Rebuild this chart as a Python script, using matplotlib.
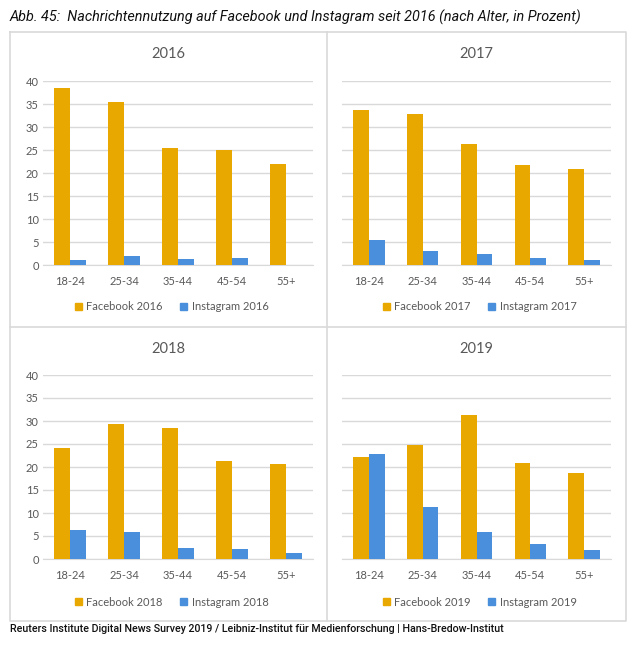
import numpy as np
import matplotlib
matplotlib.use('Agg')
import matplotlib.pyplot as plt
from matplotlib.patches import Patch

# Data
ages = ['18-24', '25-34', '35-44', '45-54', '55+']
years = ['2016', '2017', '2018', '2019']
facebook = {
	'2016': [38.5, 35.5, 25.4, 25.0, 21.9],
	'2017': [33.8, 32.9, 26.4, 21.8, 20.9],
	'2018': [24.2, 29.3, 28.5, 21.3, 20.7],
	'2019': [22.1, 24.7, 31.4, 20.9, 18.8],
}
instagram = {
	'2016': [1.1, 1.9, 1.2, 1.5, 0.1],
	'2017': [5.4, 3.0, 2.4, 1.6, 1.0],
	'2018': [6.4, 5.8, 2.5, 2.2, 1.2],
	'2019': [22.9, 11.4, 5.9, 3.3, 1.9],
}

FB_COLOR = '#E8A800'
IG_COLOR = '#4A8FDB'
GRID = '#D9D9D9'
TXT = '#595959'
W, H = 640, 646

plt.rcParams['font.family'] = ['Lato', 'DejaVu Sans']

fig = plt.figure(figsize=(W / 100, H / 100), dpi=100)

# Panel layout in pixels: (axes left, axes right, y of 0, y of 40, panel left, panel right, panel top)
panels = {
	'2016': (43, 313, 265, 81, 10, 327, 32),
	'2017': (342, 611, 265, 81, 327, 626, 32),
	'2018': (43, 313, 559, 375, 10, 327, 327),
	'2019': (342, 611, 559, 375, 327, 626, 327),
}

x = np.arange(len(ages))
bw = 0.29

for yr in years:
	l, r, y0, y40, pl, pr, pt = panels[yr]
	ax = fig.add_axes([l / W, 1 - y0 / H, (r - l) / W, (y0 - y40) / H])
	ax.bar(x - bw / 2, facebook[yr], bw, color=FB_COLOR, zorder=3)
	ax.bar(x + bw / 2, instagram[yr], bw, color=IG_COLOR, zorder=3)
	ax.set_xlim(-0.5, len(ages) - 0.5)
	ax.set_ylim(0, 40)
	ax.set_yticks(range(0, 41, 5))
	ax.yaxis.grid(True, color=GRID, lw=1, zorder=0)
	ax.set_xticks(x)
	ax.set_xticklabels(ages)
	for s in ['top', 'right', 'left']:
		ax.spines[s].set_visible(False)
	ax.spines['bottom'].set_color(GRID)
	ax.tick_params(axis='both', length=0, colors=TXT, labelsize=8)
	ax.tick_params(axis='x', pad=8)
	ax.tick_params(axis='y', pad=3)
	if yr in ('2017', '2019'):
		ax.set_yticklabels([])

	# Panel title
	fig.text((pl + pr) / 2 / W, 1 - (pt + 22) / H, yr, ha='center', va='center',
		fontsize=10.5, color=TXT)

	# Legend
	handles = [Patch(color=FB_COLOR, label=f'Facebook {yr}'),
		Patch(color=IG_COLOR, label=f'Instagram {yr}')]
	fig.legend(handles=handles, loc='center', ncol=2, frameon=False,
		bbox_to_anchor=((pl + pr) / 2 / W + 0.005, 1 - (pt + 275) / H),
		fontsize=8, handlelength=0.6, handleheight=0.6, handletextpad=0.4,
		columnspacing=1.6, labelcolor=TXT)

# Panel borders
box = '#D9D9D9'
fig.add_artist(plt.Line2D([10 / W, 626 / W, 626 / W, 10 / W, 10 / W],
	[1 - 32 / H, 1 - 32 / H, 1 - 621 / H, 1 - 621 / H, 1 - 32 / H], color=box, lw=1.2))
fig.add_artist(plt.Line2D([327 / W, 327 / W], [1 - 32 / H, 1 - 621 / H], color=box, lw=1.2))
fig.add_artist(plt.Line2D([10 / W, 626 / W], [1 - 327 / H, 1 - 327 / H], color=box, lw=1.2))

# Heading and source
fig.text(10 / W, 1 - 17 / H, 'Abb. 45:  Nachrichtennutzung auf Facebook und Instagram seit 2016 (nach Alter, in Prozent)',
	ha='left', va='center', fontsize=10.4, style='italic', family='Roboto', color='#111111')
fig.text(10 / W, 1 - 629 / H, 'Reuters Institute Digital News Survey 2019 / Leibniz-Institut für Medienforschung | Hans-Bredow-Institut',
	ha='left', va='center', fontsize=7.7, family='Roboto', weight='medium', color='#111111')

fig.savefig('out.png', dpi=100)
